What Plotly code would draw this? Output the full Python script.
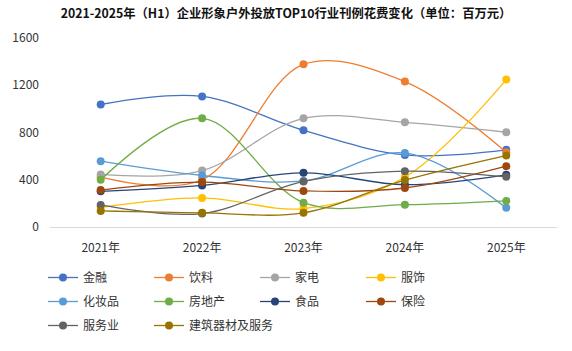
import plotly.graph_objects as go

years = ["2021年", "2022年", "2023年", "2024年", "2025年"]
names = ["金融", "饮料", "家电", "服饰", "化妆品", "房地产", "食品", "保险", "服务业", "建筑器材及服务"]
colors = ["#4472C4", "#ED7D31", "#A5A5A5", "#FFC000", "#5B9BD5", "#70AD47", "#264478", "#9E480E", "#636363", "#997300"]

jinrong = [1037, 1105, 818, 610, 653]
yinliao = [423, 400, 1377, 1231, 633]
jiadian = [445, 478, 920, 886, 802]
fushi = [165, 246, 156, 423, 1248]
huazhuangpin = [557, 436, 390, 627, 162]
fangdichan = [400, 920, 206, 189, 221]
shipin = [302, 352, 459, 358, 442]
baoxian = [313, 380, 305, 330, 515]
fuwuye = [187, 114, 386, 473, 425]
jianzhu = [136, 120, 120, 397, 605]

series = [jinrong, yinliao, jiadian, fushi, huazhuangpin, fangdichan, shipin, baoxian, fuwuye, jianzhu]

FONT = "Noto Sans CJK SC"
PW = 507.0
PH = 190.0


def ly(py):
    return (228.5 - py) / PH


fig = go.Figure()
legends = {}
for i, (name, vals, col) in enumerate(zip(names, series, colors)):
    lid = "legend" if i == 0 else "legend%d" % (i + 1)
    row, c = divmod(i, 4)
    fig.add_trace(go.Scatter(
        x=years, y=vals, name=name, mode="lines+markers",
        line=dict(color=col, width=1.3, shape="spline", smoothing=1.0),
        marker=dict(color=col, size=8),
        legend=lid, showlegend=True,
    ))
    legends[lid] = dict(
        orientation="h", xanchor="left", yanchor="middle",
        x=(-7 + 106 * c) / PW, y=ly(278 + 24 * row),
        font=dict(family=FONT, size=12, color="#333333"),
        bgcolor="rgba(0,0,0,0)", itemclick=False,
    )

fig.update_layout(
    width=572, height=351,
    showlegend=True,
    margin=dict(l=50, r=15, t=38, b=123),
    paper_bgcolor="white", plot_bgcolor="white",
    title=dict(text="<b>2021-2025年（H1）企业形象户外投放TOP10行业刊例花费变化（单位：百万元）</b>",
               x=0.5, xanchor="center", y=1 - 14 / 351, yanchor="middle",
               font=dict(family=FONT, size=12.3, color="#111111")),
    xaxis=dict(showgrid=False, showline=True, linecolor="#D9D9D9", linewidth=1,
               ticks="", ticklabelstandoff=10,
               tickfont=dict(family=FONT, size=12, color="#333333"),
               range=[-0.5, 4.5]),
    yaxis=dict(range=[0, 1600], dtick=400, showgrid=False, zeroline=False,
               showline=False, ticks="", ticklabelstandoff=10,
               tickfont=dict(family=FONT, size=12, color="#333333")),
    hovermode=False,
    **legends,
)

fig.write_html("out.html")
